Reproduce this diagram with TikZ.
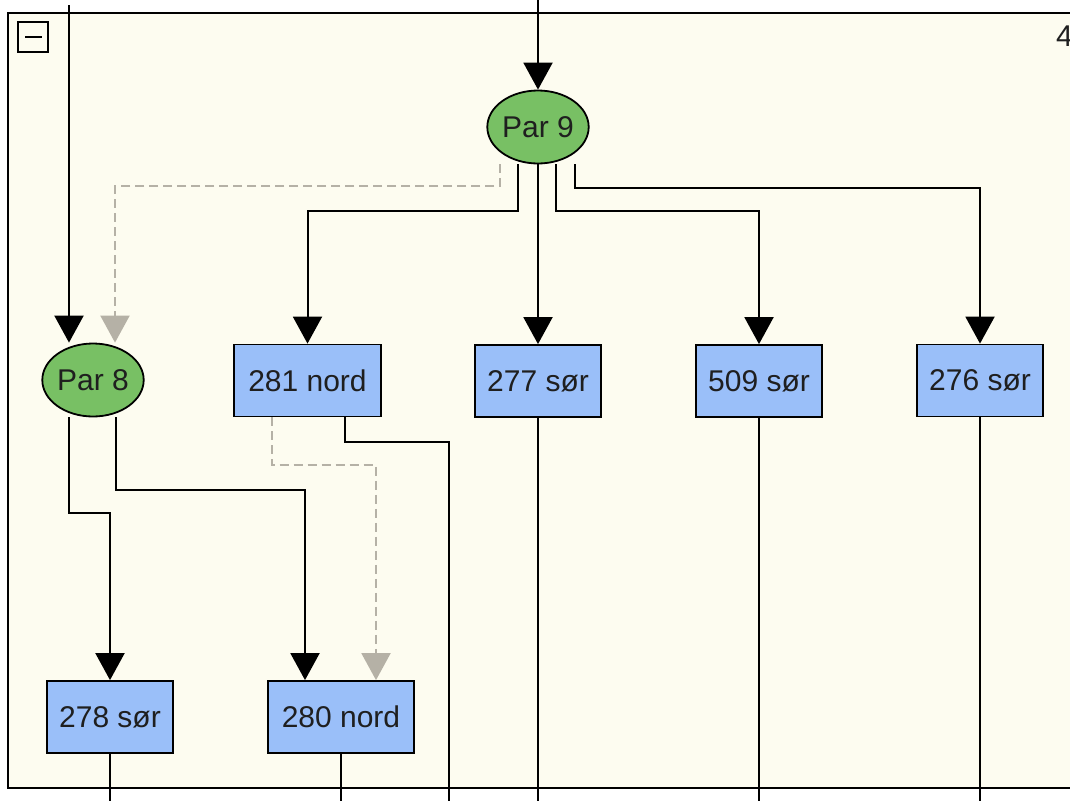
\documentclass[tikz,border=0pt]{standalone}
\usepackage{fontspec}
\setmainfont{Liberation Sans}
\usetikzlibrary{arrows.meta,shapes.geometric}
\definecolor{paper}{HTML}{FDFCF0}
\definecolor{pargreen}{HTML}{78C064}
\definecolor{rowblue}{HTML}{9ABFF9}
\definecolor{softgray}{HTML}{B5B1A6}

\begin{document}
\begin{tikzpicture}[x=1pt,y=-1pt,
  every node/.style={font=\fontsize{30}{35}\selectfont,text=black!88},
  parnode/.style={ellipse,draw,line width=1.8pt,fill=pargreen,minimum width=93,minimum height=73,inner sep=0pt},
  rowbox/.style={rectangle,draw,line width=1.8pt,fill=rowblue,minimum height=72,inner sep=0pt},
  wire/.style={line width=2pt},
  link/.style={wire,-{Triangle[width=29pt,length=27pt]}},
  ghost/.style={line width=2pt,softgray,dash pattern=on 9pt off 5pt,-{Triangle[width=29pt,length=27pt]}}]
\clip (0,0) rectangle (1070,801);
\fill[paper] (8,13) rectangle (1090,788);
\draw[line width=2pt] (8,13) rectangle (1090,788);
\draw[line width=1.6pt] (18,22) rectangle (48,52);
\draw[line width=2.4pt] (25,37) -- (42,37);
\node[anchor=west,inner sep=0pt] (count) at (1056,36) {4};

\node[parnode] (par9) at (538,127) {Par 9};
\node[parnode] (par8) at (93,380) {Par 8};
\node[rowbox,minimum width=147] (n281) at (307.5,380.5) {281 nord};
\node[rowbox,minimum width=126] (s277) at (538,381) {277 sør};
\node[rowbox,minimum width=126] (s509) at (759,381) {509 sør};
\node[rowbox,minimum width=126] (s276) at (980,380.5) {276 sør};
\node[rowbox,minimum width=126] (s278) at (110,717) {278 sør};
\node[rowbox,minimum width=146] (n280) at (341,717) {280 nord};

\coordinate (top8) at (69,5);
\coordinate (top9) at (538,0);
\coordinate (out110) at (110,801);
\coordinate (out341) at (341,801);
\coordinate (out449) at (449,801);
\coordinate (out538) at (538,801);
\coordinate (out759) at (759,801);
\coordinate (out980) at (980,801);

\draw[link] (top8) -- ([xshift=-24]par8.north);
\draw[link] (top9) -- (par9.north);
\draw[ghost] ([xshift=-38]par9.south) -- ++(0,22) -| ([xshift=22]par8.north);
\draw[link] ([xshift=-20]par9.south) -- ++(0,47) -| (n281.north);
\draw[link] (par9.south) -- (s277.north);
\draw[link] ([xshift=18]par9.south) -- ++(0,47) -| (s509.north);
\draw[link] ([xshift=37]par9.south) -- ++(0,24) -| (s276.north);
\draw[link] ([xshift=-24]par8.south) -- ++(0,96) -| (s278.north);
\draw[link] ([xshift=23]par8.south) -- ++(0,73) -| ([xshift=-36]n280.north);
\draw[ghost] ([xshift=-36]n281.south) -- ++(0,48) -| ([xshift=35]n280.north);
\draw[wire] ([xshift=37]n281.south) -- ++(0,25) -| (out449);
\draw[wire] (s278.south) -- (out110);
\draw[wire] (n280.south) -- (out341);
\draw[wire] (s277.south) -- (out538);
\draw[wire] (s509.south) -- (out759);
\draw[wire] (s276.south) -- (out980);
\end{tikzpicture}
\end{document}
